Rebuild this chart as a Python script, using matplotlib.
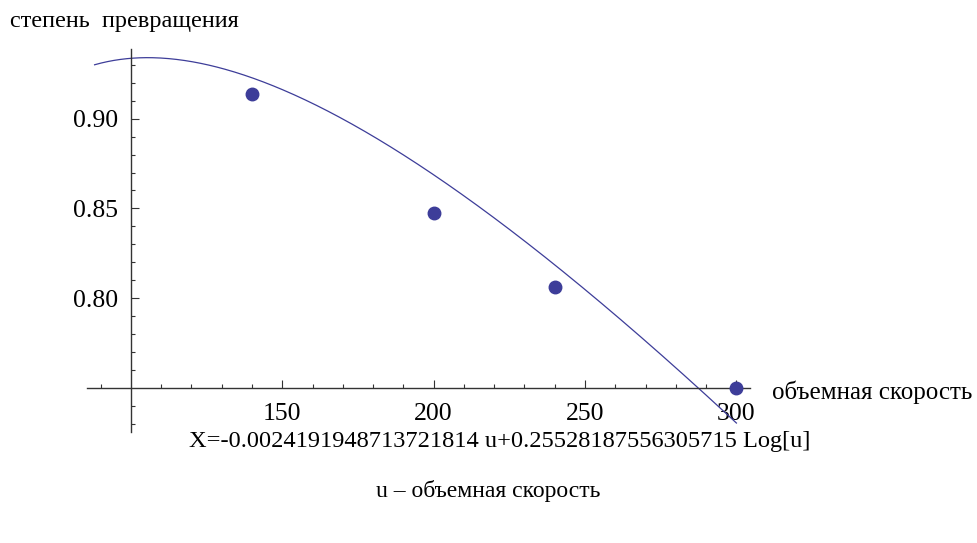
import numpy as np
import matplotlib
matplotlib.use("Agg")
import matplotlib.pyplot as plt
from matplotlib.ticker import FixedLocator

# measured points
u_pts = [140, 200, 240, 300]
x_pts = [0.9136, 0.8472, 0.8061, 0.750]

# fitted curve coefficients (from the caption)
coef_u = -0.0024191948713721814
coef_log = 0.25528187556305715
u_range = (88, 300)

x_major = [150, 200, 250, 300]
y_major = [0.80, 0.85, 0.90]

plt.rcParams['font.family'] = ['Liberation Serif', 'DejaVu Serif']
col = '#3d3d99'
axcol = '#333333'

fig = plt.figure(figsize=(9.78, 5.43), dpi=100)
ax = fig.add_axes([0.0893, 0.2044, 0.7669 - 0.0893, 0.9098 - 0.2044])

u = np.linspace(u_range[0], u_range[1], 400)
ax.plot(u, coef_u * u + coef_log * np.log(u), color=col, lw=0.9, clip_on=False)
ax.plot(u_pts, x_pts, 'o', color=col, ms=9, clip_on=False, zorder=5)

ax.set_xlim(85.6, 304.5)
ax.set_ylim(0.7253, 0.9389)

for s in ['top', 'right']:
    ax.spines[s].set_visible(False)
ax.spines['left'].set_position(('data', 100))
ax.spines['bottom'].set_position(('data', 0.75))
for s in ['left', 'bottom']:
    ax.spines[s].set_color(axcol)
    ax.spines[s].set_linewidth(1.0)

ax.xaxis.set_major_locator(FixedLocator(x_major))
ax.xaxis.set_minor_locator(FixedLocator([v for v in range(90, 305, 10) if v not in x_major and v != 100]))
ax.yaxis.set_major_locator(FixedLocator(y_major))
ax.yaxis.set_minor_locator(FixedLocator([round(0.73 + 0.01 * i, 2) for i in range(21)
                                         if round(0.73 + 0.01 * i, 2) not in y_major + [0.75]]))
ax.set_xticklabels([str(v) for v in x_major])
ax.set_yticklabels(['%.2f' % v for v in y_major])

ax.tick_params(which='both', direction='in', color=axcol, width=0.8)
ax.tick_params(which='major', length=5.5, labelsize=18.5)
ax.tick_params(which='minor', length=3)
ax.tick_params(axis='x', pad=11)
ax.tick_params(axis='y', pad=9)

fig.text(10 / 978, 1 - 22 / 543, 'степень  превращения', fontsize=17.5, va='center', ha='left')
fig.text(772 / 978, 1 - 392 / 543, 'объемная скорость', fontsize=18, va='center', ha='left')
fig.text(500 / 978, 1 - 441 / 543,
         'X=-0.0024191948713721814 u+0.25528187556305715 Log[u]',
         fontsize=17.6, va='center', ha='center')
fig.text(488 / 978, 1 - 491 / 543, 'u – объемная скорость', fontsize=17,
         va='center', ha='center')

fig.savefig('out.png', dpi=100)
